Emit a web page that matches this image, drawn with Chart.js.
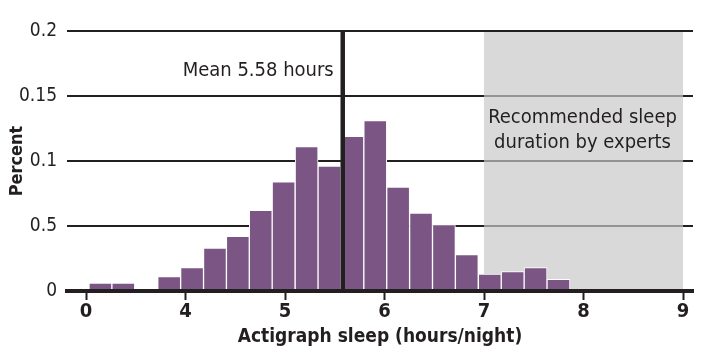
<!DOCTYPE html>
<html>
<head>
<meta charset="utf-8">
<script src="https://cdn.jsdelivr.net/npm/chart.js@4"></script>
<style>
  body { margin: 0; background: #fff; }
  #wrap { width: 705px; height: 362px; }
</style>
</head>
<body>
<div id="wrap"><canvas id="myChart"></canvas></div>
<script>
// histogram bins (display hours; the 0 tick sits where 3 would be, axis is broken)
const binCenters = [3.145, 3.375, 3.606, 3.836, 4.066, 4.296, 4.526, 4.756, 4.986, 5.217, 5.447,
                    5.677, 5.907, 6.137, 6.367, 6.597, 6.827, 7.058, 7.288, 7.518, 7.748];
const binPercent = [0.006, 0.006, 0, 0.011, 0.018, 0.033, 0.042, 0.062, 0.084, 0.111, 0.096,
                    0.119, 0.131, 0.080, 0.060, 0.051, 0.028, 0.013, 0.015, 0.018, 0.009];
const xTickPos = [3, 4, 5, 6, 7, 8, 9];
const xTickLabels = ['0', '4', '5', '6', '7', '8', '9'];
const yTickLabels = ['0', '0.5', '0.1', '0.15', '0.2'];
const meanHours = 5.58;
const recommended = [7, 9];
const yMax = 0.2;

const INK = '#231f20';
const FONT = '"DejaVu Sans Condensed", "Liberation Sans Narrow", sans-serif';

const overlay = {
    id: 'overlay',
    beforeDatasetsDraw(chart) {
        const {ctx, scales: {x, y}} = chart;
        const l = x.getPixelForValue(recommended[0]);
        const r = x.getPixelForValue(recommended[1]);
        const t = y.getPixelForValue(yMax) + 1;
        const b = y.getPixelForValue(0);
        ctx.save();
        ctx.fillStyle = 'rgba(200,200,200,0.69)';
        ctx.fillRect(l, t, r - l, b - t);
        ctx.restore();
    },
    afterDatasetsDraw(chart) {
        const {ctx, scales: {x, y}} = chart;
        const mx = x.getPixelForValue(meanHours);
        ctx.save();
        ctx.strokeStyle = INK;
        ctx.lineWidth = 4.5;
        ctx.beginPath();
        ctx.moveTo(mx, y.getPixelForValue(yMax) - 1);
        ctx.lineTo(mx, y.getPixelForValue(0));
        ctx.stroke();
        ctx.restore();
    },
    afterDraw(chart) {
        const {ctx, scales: {x, y}} = chart;
        const top = y.getPixelForValue(yMax);
        ctx.save();
        ctx.fillStyle = INK;
        ctx.font = '20px ' + FONT;
        ctx.textBaseline = 'alphabetic';
        ctx.textAlign = 'right';
        ctx.fillText('Mean ' + meanHours + ' hours', x.getPixelForValue(meanHours) - 9, top + 45);
        ctx.textAlign = 'center';
        const cx = x.getPixelForValue((recommended[0] + recommended[1]) / 2) - 1;
        ctx.fillText('Recommended sleep', cx, top + 92);
        ctx.fillText('duration by experts', cx, top + 117);
        ctx.restore();
    }
};

const ctx = document.getElementById('myChart').getContext('2d');
const myChart = new Chart(ctx, {
    type: 'bar',
    data: {
        datasets: [{
            data: binCenters.map((c, i) => ({x: c, y: binPercent[i]})),
            backgroundColor: '#7b5583',
            borderColor: '#ffffff',
            borderWidth: 1,
            barPercentage: 1,
            categoryPercentage: 1
        }]
    },
    options: {
        responsive: true,
        maintainAspectRatio: false,
        animation: false,
        layout: { padding: { left: 0, right: 12, top: 31, bottom: 0 } },
        plugins: { legend: { display: false }, tooltip: { enabled: false } },
        scales: {
            x: {
                type: 'linear',
                offset: false,
                min: 2.809,
                max: 9.10,
                afterBuildTicks: s => { s.ticks = xTickPos.map(v => ({value: v})); },
                afterFit: s => { s.height = 71; },
                ticks: {
                    color: INK,
                    padding: 0,
                    font: { family: FONT, size: 20, weight: 'bold' },
                    callback: v => xTickLabels[xTickPos.indexOf(v)]
                },
                grid: {
                    offset: false,
                    drawOnChartArea: false,
                    drawTicks: true,
                    tickLength: 9,
                    tickColor: INK,
                    tickWidth: 2
                },
                border: { display: true, color: INK, width: 4, z: 1 },
                title: {
                    display: true,
                    text: 'Actigraph sleep (hours/night)',
                    color: INK,
                    font: { family: FONT, size: 19, weight: 'bold' },
                    padding: { top: 0, bottom: 14 }
                }
            },
            y: {
                min: 0,
                max: yMax,
                afterFit: s => { s.width = 67; },
                ticks: {
                    stepSize: 0.05,
                    color: INK,
                    padding: 10,
                    font: { family: FONT, size: 19 },
                    callback: (v, i) => yTickLabels[i]
                },
                grid: { color: INK, lineWidth: 2, drawTicks: false },
                border: { display: false },
                title: {
                    display: true,
                    text: 'Percent',
                    color: INK,
                    font: { family: FONT, size: 18, weight: 'bold' },
                    padding: { top: 7, bottom: 0 }
                }
            }
        }
    },
    plugins: [overlay]
});
</script>
</body>
</html>
